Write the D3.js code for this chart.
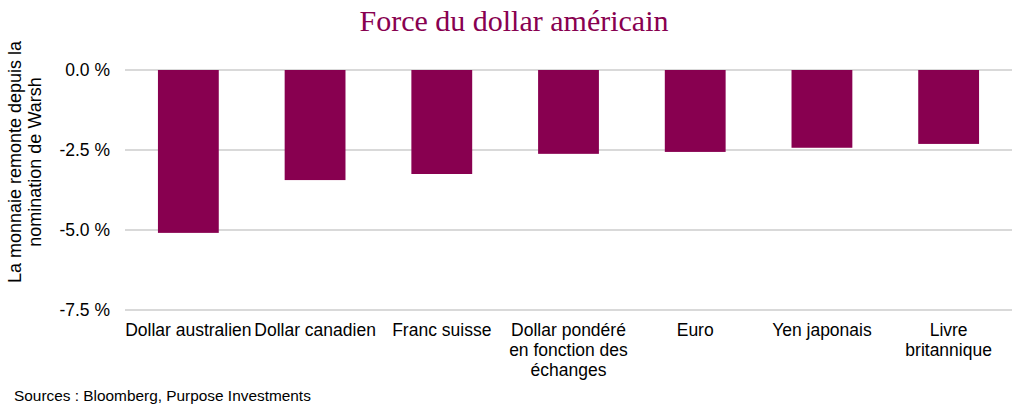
<!DOCTYPE html>
<html>
<head>
<meta charset="utf-8">
<script src="https://cdn.jsdelivr.net/npm/d3@7"></script>
<style>
  body { margin: 0; background: #fff; }
  text { font-family: "Liberation Sans", Arial, sans-serif; }
</style>
</head>
<body>
<div id="chart"></div>
<script>
// data
var categories = [
    ["Dollar australien"],
    ["Dollar canadien"],
    ["Franc suisse"],
    ["Dollar pondéré", "en fonction des", "échanges"],
    ["Euro"],
    ["Yen japonais"],
    ["Livre", "britannique"]
];
var values = [-5.09, -3.44, -3.25, -2.62, -2.56, -2.43, -2.31];
var yTicks = [0, -2.5, -5, -7.5];

var width = 1024, height = 417;
var plotLeft = 125, plotRight = 1012, plotTop = 70, plotBottom = 310;

var svg = d3.select("#chart").append("svg")
    .attr("width", width).attr("height", height);

var x_scale = d3.scaleBand()
    .domain(d3.range(categories.length))
    .range([plotLeft, plotRight])
    .paddingInner(0.52)
    .paddingOuter(0.26);
var y_scale = d3.scaleLinear().domain([-7.5, 0]).range([plotBottom, plotTop]);

// gridlines
svg.append("g").selectAll("line")
    .data(yTicks)
    .enter().append("line")
    .attr("x1", plotLeft).attr("x2", plotRight)
    .attr("y1", function (d) { return y_scale(d); })
    .attr("y2", function (d) { return y_scale(d); })
    .style("stroke", "#d9d9d9")
    .style("stroke-width", 2);

// bars
svg.append("g").selectAll("rect")
    .data(values)
    .enter().append("rect")
    .attr("x", function (d, i) { return x_scale(i); })
    .attr("y", y_scale(0))
    .attr("width", x_scale.bandwidth())
    .attr("height", function (d) { return y_scale(d) - y_scale(0); })
    .style("fill", "#880050");

// y axis labels
var y_axis = d3.axisLeft(y_scale)
    .tickValues(yTicks)
    .tickSize(0)
    .tickPadding(15)
    .tickFormat(function (d) { return d3.format(".1f")(d).replace("−", "-") + " %"; });
var gy = svg.append("g")
    .attr("transform", "translate(" + plotLeft + ",0)")
    .call(y_axis);
gy.select(".domain").remove();
gy.selectAll("text")
    .style("font-family", "'Liberation Sans', Arial, sans-serif")
    .style("font-size", "17.5px")
    .style("fill", "#000");

// x labels
var xl = svg.append("g").selectAll("text")
    .data(categories)
    .enter().append("text")
    .attr("text-anchor", "middle")
    .attr("x", function (d, i) { return x_scale(i) + x_scale.bandwidth() / 2; })
    .attr("y", 336)
    .style("font-size", "17.5px")
    .style("fill", "#000");
xl.selectAll("tspan")
    .data(function (d) { return d; })
    .enter().append("tspan")
    .attr("x", function () { return d3.select(this.parentNode).attr("x"); })
    .attr("dy", function (d, i) { return i === 0 ? 0 : 20; })
    .text(function (d) { return d; });

// title
svg.append("text")
    .attr("x", 514)
    .attr("y", 31)
    .attr("text-anchor", "middle")
    .style("font-family", "'Liberation Serif', 'Times New Roman', serif")
    .style("font-size", "30px")
    .style("fill", "#880050")
    .text("Force du dollar américain");

// y axis title
var yt = svg.append("text")
    .attr("text-anchor", "middle")
    .attr("transform", "translate(21,162) rotate(-90)")
    .style("font-size", "18px")
    .style("fill", "#000");
yt.append("tspan").attr("x", 0).attr("dy", 0).text("La monnaie remonte depuis la");
yt.append("tspan").attr("x", 0).attr("dy", 20).text("nomination de Warsh");

// source
svg.append("text")
    .attr("x", 14)
    .attr("y", 401)
    .style("font-size", "15.4px")
    .style("fill", "#000")
    .text("Sources : Bloomberg, Purpose Investments");
</script>
</body>
</html>
